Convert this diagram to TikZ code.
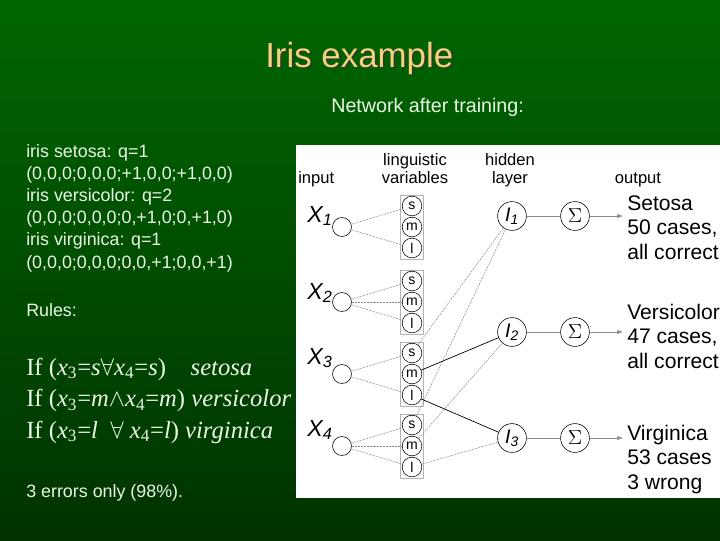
\documentclass[tikz,border=0pt]{standalone}
\usepackage{fontspec}
\setmainfont{Liberation Sans}
\newfontfamily\rulefont{Liberation Serif}
\usetikzlibrary{arrows.meta,positioning}
\definecolor{bgTop}{HTML}{006600}
\definecolor{bgBot}{HTML}{003300}
\definecolor{ttlC}{HTML}{F2D27C}
\definecolor{txtC}{HTML}{EAF6E4}
\definecolor{lnkC}{HTML}{8A8A8A}
\newcommand{\Xlab}[1]{{\itshape X}\textsubscript{\itshape #1}}
\newcommand{\Ilab}[1]{{\itshape I}\textsubscript{\itshape #1}}
\newcommand{\xv}[1]{\textit{x}\textsubscript{#1}}

\begin{document}
\begin{tikzpicture}[x=0.025cm, y=-0.025cm, every node/.style={inner sep=0pt},
  inp/.style={draw, circle, minimum size=13.5pt},
  ling/.style={draw, circle, minimum size=14pt, font=\fontsize{10}{10}\selectfont},
  hid/.style={draw, circle, minimum size=20.5pt, font=\fontsize{14}{14}\selectfont},
  summ/.style={hid},
  head/.style={font=\fontsize{11.8}{12.8}\selectfont, align=center},
  xlab/.style={anchor=base west, font=\fontsize{16.5}{16.5}\selectfont},
  outtxt/.style={anchor=base west, align=left, font=\fontsize{15}{17.4}\selectfont},
  sidetxt/.style={anchor=base west, align=left, text=txtC, font=\fontsize{12.7}{15.7}\selectfont},
  link/.style={lnkC, line width=0.35pt, dash pattern=on 1.5pt off 0.7pt},
  strong/.style={black, line width=0.5pt}]
  \useasboundingbox (0,0) rectangle (720,540);
  \shade[top color=bgTop, bottom color=bgBot] (0,0) rectangle (720,540);

  % title and left column (multi-line nodes sit on their last baseline)
  \node[anchor=base west, text=black!80, font=\fontsize{24.8}{30}\selectfont] (ttlsh) at (266.5,68.5) {Iris example};
  \node[anchor=base west, text=ttlC, font=\fontsize{24.8}{30}\selectfont] (ttl) at (265,67) {Iris example};
  \node[sidetxt, font=\fontsize{14}{16}\selectfont] (net) at (331,112) {Network after training:};
  \node[sidetxt] (codes) at (26,268) {iris setosa: q=1\\(0,0,0;0,0,0;+1,0,0;+1,0,0)\\iris versicolor: q=2\\(0,0,0;0,0,0;0,+1,0;0,+1,0)\\iris virginica: q=1\\(0,0,0;0,0,0;0,0,+1;0,0,+1)};
  \node[sidetxt] (rules) at (26,316) {Rules:};
  \node[sidetxt, font=\rulefont\fontsize{17.5}{22.3}\selectfont] (rl) at (26,438)
    {If (\xv{3}=\textit{s}$\forall$\xv{4}=\textit{s})\quad \textit{setosa}\\
     If (\xv{3}=\textit{m}$\wedge$\xv{4}=\textit{m}) \textit{versicolor}\\
     If (\xv{3}=\textit{l}\ \ $\forall$ \xv{4}=\textit{l}) \textit{virginica}};
  \node[sidetxt] (err) at (26,497) {3 errors only (98\%).};

  % network panel
  \fill[white] (296,145) rectangle (720,498);
  \node[head, anchor=base west] (hin) at (298,183) {input};
  \node[head, anchor=base] (hling) at (415,183) {linguistic\\variables};
  \node[head, anchor=base] (hhid) at (510,183) {hidden\\layer};
  \node[head, anchor=base] (hout) at (638,183) {output};

  \foreach \i/\y/\ly in {1/227/222, 2/302/299, 3/374/364, 4/446/436} {
    \node[inp] (x\i) at (342,\y) {};
    \node[xlab] (lx\i) at (307,\ly) {\Xlab{\i}};
    \draw[gray!60] (400,\y-32) rectangle (423,\y+32);
    \node[ling] (m\i) at (412,\y) {m};
    \node[ling] (s\i) at (412,\y-21) {s};
    \node[ling] (l\i) at (412,\y+21) {l};
  }
  \foreach \a/\b in {x1/s1,x1/l1,x2/s2,x2/m2,x2/l2,x3/s3,x3/l3,x4/s4,x4/m4,x4/l4}
    \draw[link] (\a) -- (\b);

  \foreach \k/\y in {1/216, 2/332, 3/438} {
    \node[hid] (h\k) at (512,\y) {\Ilab{\k}};
    \node[summ] (sg\k) at (575,\y) {$\Sigma$};
    \coordinate (o\k) at (623,\y);
    \draw[lnkC, line width=0.4pt] (h\k) -- (sg\k);
    \draw[lnkC, line width=0.4pt, -{Latex[length=4pt,width=3pt]}] (sg\k) -- (o\k);
  }
  \foreach \a/\b in {s3/h1,s4/h1,m4/h2,l4/h3}
    \draw[link] (\a) -- (\b);
  \draw[strong] (m3) -- (h2);
  \draw[strong] (l3) -- (h3);

  \node[outtxt] (t1) at (627,259) {Setosa\\50 cases,\\all correct};
  \node[outtxt] (t2) at (627,368) {Versicolor\\47 cases,\\all correct};
  \node[outtxt] (t3) at (627,489) {Virginica\\53 cases\\3 wrong};
\end{tikzpicture}
\end{document}
